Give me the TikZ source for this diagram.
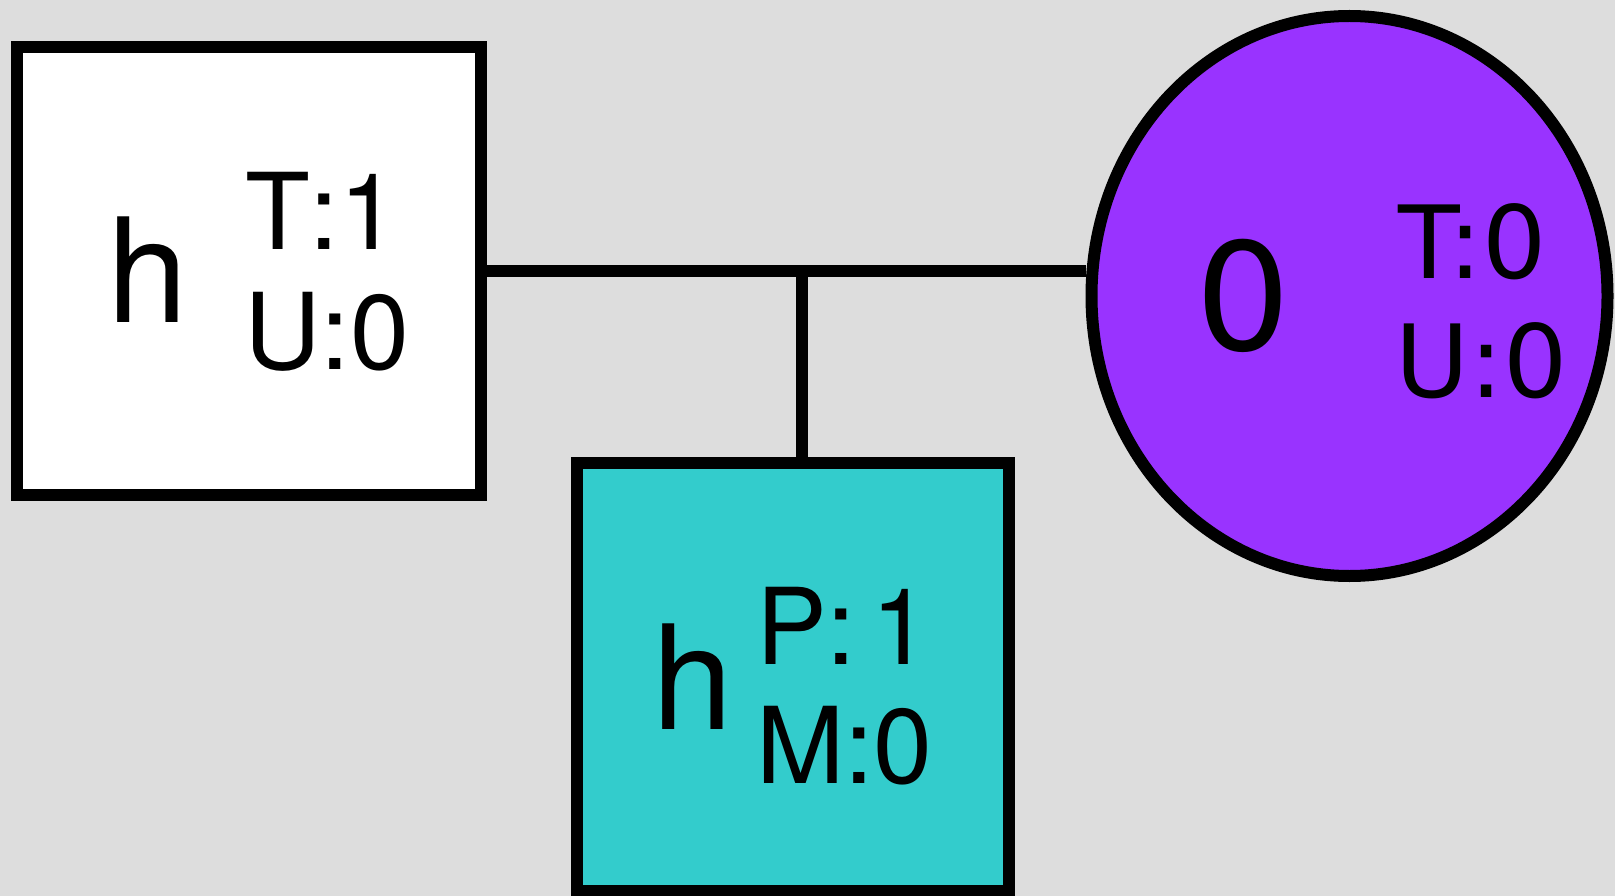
\documentclass[tikz,border=0pt]{standalone}
\usepackage{fontspec}
\setmainfont[Kerning=Off]{TeX Gyre Heros}
\newfontfamily\dvfont{DejaVu Sans}
\usetikzlibrary{shapes.geometric}
\definecolor{bgray}{HTML}{DDDDDD}
\definecolor{tealfill}{HTML}{33CCCC}
\definecolor{purplefill}{HTML}{9933FF}
\tikzset{
  person/.style={draw=black, line width=12pt, rectangle, inner sep=0pt},
  female/.style={draw=black, line width=12pt, ellipse, inner sep=0pt},
  link/.style={draw=black, line width=12pt},
  lbl/.style={anchor=base west, inner sep=0pt, text=black},
  big/.style={font=\fontsize{145}{145}\selectfont},
  small/.style={font=\fontsize{106}{106}\selectfont},
}
\begin{document}
\begin{tikzpicture}[x=1pt, y=-1pt]
\fill[bgray] (0,0) rectangle (1615,896);
\useasboundingbox (0,0) rectangle (1615,896);
\clip (0,0) rectangle (1615,896);
% shapes
\node[person, fill=white, minimum width=464pt, minimum height=448pt] (L) at (249,271) {};
\node[female, fill=purplefill, minimum width=516pt, minimum height=560pt] (C) at (1349.5,296) {};
\node[person, fill=tealfill, minimum width=432pt, minimum height=428pt] (B) at (793,677) {};
% connectors
\coordinate (J) at (802,271);
\draw[link] (L.east) -- (C.west |- L.east);
\draw[link] (J) -- (J |- B.north);
% labels
\node[lbl, big] (Lh) at (107,323) {h};
\node[lbl, small] (Lt) at (245,250) {T:1};
\node[lbl, small] (Lu) at (244,369) {U:0};
\node[lbl, big] (Bh) at (652,729) {h};
\node[lbl, small] (Bp) at (756,664) {P:\kern15pt 1};
\node[lbl, small] (Bm) at (756,783) {M:0};
\node[lbl, font=\dvfont\fontsize{150}{150}\selectfont] (C0) at (1195,350) {0};
\node[lbl, font=\dvfont\fontsize{101}{101}\selectfont] (Ct) at (1398,279) {T:0};
\node[lbl, font=\dvfont\fontsize{101}{101}\selectfont] (Cu) at (1395,397) {U:0};
\end{tikzpicture}
\end{document}
